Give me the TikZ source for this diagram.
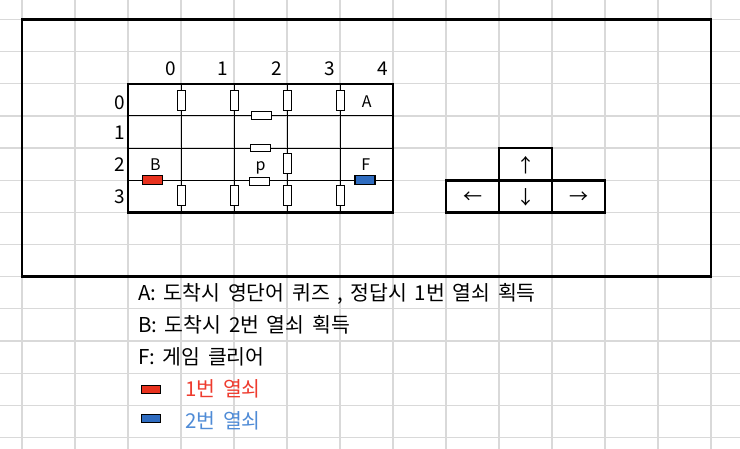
\documentclass[tikz,border=0pt]{standalone}
\usepackage{fontspec}
\setmainfont[WordSpace=1.65]{Noto Sans CJK KR}
\definecolor{gridgray}{RGB}{217,217,217}
\definecolor{keyred}{RGB}{232,50,30}
\definecolor{keyblue}{RGB}{47,108,192}
\definecolor{txtred}{RGB}{238,59,46}
\definecolor{txtblue}{RGB}{79,139,214}
\tikzset{
  gridline/.style={draw=gridgray, line width=1.2pt},
  frame/.style={draw=black, line width=2.8pt},
  mazeframe/.style={draw=black, line width=2.5pt},
  wall/.style={draw=black, line width=1pt},
  vdoor/.style={draw=black, fill=white, line width=1pt, minimum width=8pt, minimum height=20pt, inner sep=0pt},
  hdoor/.style={draw=black, fill=white, line width=1pt, minimum width=20pt, minimum height=8pt, inner sep=0pt},
  keybox/.style={draw=black, line width=1.1pt, minimum width=19pt, minimum height=8pt, inner sep=0pt},
  numlbl/.style={font=\fontsize{19}{20}\selectfont, inner sep=0pt},
  letlbl/.style={font=\fontsize{16}{17}\selectfont, inner sep=0pt, anchor=base},
  legtxt/.style={font=\fontsize{20.5}{22}\selectfont, inner sep=0pt, anchor=base west},
  arrowbox/.style={draw=black, line width=2.5pt},
  arrowtxt/.style={font=\fontsize{19}{20}\selectfont, inner sep=0pt},
}
\begin{document}
\begin{tikzpicture}[x=1pt,y=-1pt]
\useasboundingbox (0,0) rectangle (740,449);
% spreadsheet grid
\foreach \k in {0,...,13} {
  \draw[gridline] ({22+53*\k},0) -- ({22+53*\k},449);
  \draw[gridline] (0,{19.5+32.15*\k}) -- (740,{19.5+32.15*\k});
}
% outer frame
\draw[frame] (22,19.5) rectangle (711,276.7);
% maze internal walls
\foreach \x in {181,234,287,340} { \draw[wall] (\x,83.8) -- (\x,212.4); }
\foreach \y in {116,148.1,180.3} { \draw[wall] (128,\y) -- (393,\y); }
\draw[mazeframe] (128,83.8) rectangle (393,212.4);
% doors
\node[vdoor] (d00) at (181,101) {};
\node[vdoor] (d01) at (234,101) {};
\node[vdoor] (d02) at (287,101) {};
\node[vdoor] (d03) at (340,101) {};
\node[vdoor] (d30) at (181,195.7) {};
\node[vdoor] (d31) at (234,195.7) {};
\node[vdoor] (d32) at (287,195.7) {};
\node[vdoor] (d33) at (340,195.7) {};
\node[vdoor] (d22) at (287,164) {};
\node[hdoor] (h1) at (261.5,116) {};
\node[hdoor, minimum height=7pt] (h2) at (260.3,148.5) {};
\node[hdoor] (h3) at (259,181.5) {};
% keys in maze
\node[keybox, fill=keyred, minimum width=20pt, minimum height=9pt] (kb) at (152.7,180.2) {};
\node[keybox, fill=keyblue, minimum width=20pt, minimum height=9pt] (kf) at (365,180.2) {};
% letters
\node[letlbl] (la) at (366.7,107.3) {A};
\node[letlbl] (lb) at (155.3,171) {B};
\node[letlbl] (lp) at (260.7,171) {p};
\node[letlbl] (lf) at (365.7,171) {F};
% column labels
\node[numlbl, anchor=base east] (c0) at (176,76) {0};
\node[numlbl, anchor=base east] (c1) at (228,76) {1};
\node[numlbl, anchor=base east] (c2) at (282,76) {2};
\node[numlbl, anchor=base east] (c3) at (335,76) {3};
\node[numlbl, anchor=base east] (c4) at (388,76) {4};
% row labels
\node[numlbl, anchor=base east] (r0) at (125,109.3) {0};
\node[numlbl, anchor=base east] (r1) at (125,140) {1};
\node[numlbl, anchor=base east] (r2) at (125,172) {2};
\node[numlbl, anchor=base east] (r3) at (125,204) {3};
% arrow keys
\draw[arrowbox] (499,148.1) rectangle (552,180.3);
\draw[arrowbox] (446,180.3) rectangle (605,212.4);
\draw[arrowbox] (499,180.3) -- (499,212.4);
\draw[arrowbox] (552,180.3) -- (552,212.4);
\node[arrowtxt] (up) at (525.5,165.5) {↑};
\node[arrowtxt] (left) at (472.5,197.5) {←};
\node[arrowtxt] (down) at (525.5,197) {↓};
\node[arrowtxt] (right) at (578.5,197.5) {→};
% legend
\node[legtxt] (t1) at (138,300.5) {A: 도착시 영단어 퀴즈 , 정답시 1번 열쇠 획득};
\node[legtxt] (t2) at (138,332.6) {B: 도착시 2번 열쇠 획득};
\node[legtxt] (t3) at (138,364.8) {F: 게임 클리어};
\node[keybox, fill=keyred] (k1) at (151,389.3) {};
\node[legtxt, text=txtred] (t4) at (185,396.5) {1번 열쇠};
\node[keybox, fill=keyblue] (k2) at (151,418.5) {};
\node[legtxt, text=txtblue] (t5) at (185,428.5) {2번 열쇠};
\end{tikzpicture}
\end{document}
